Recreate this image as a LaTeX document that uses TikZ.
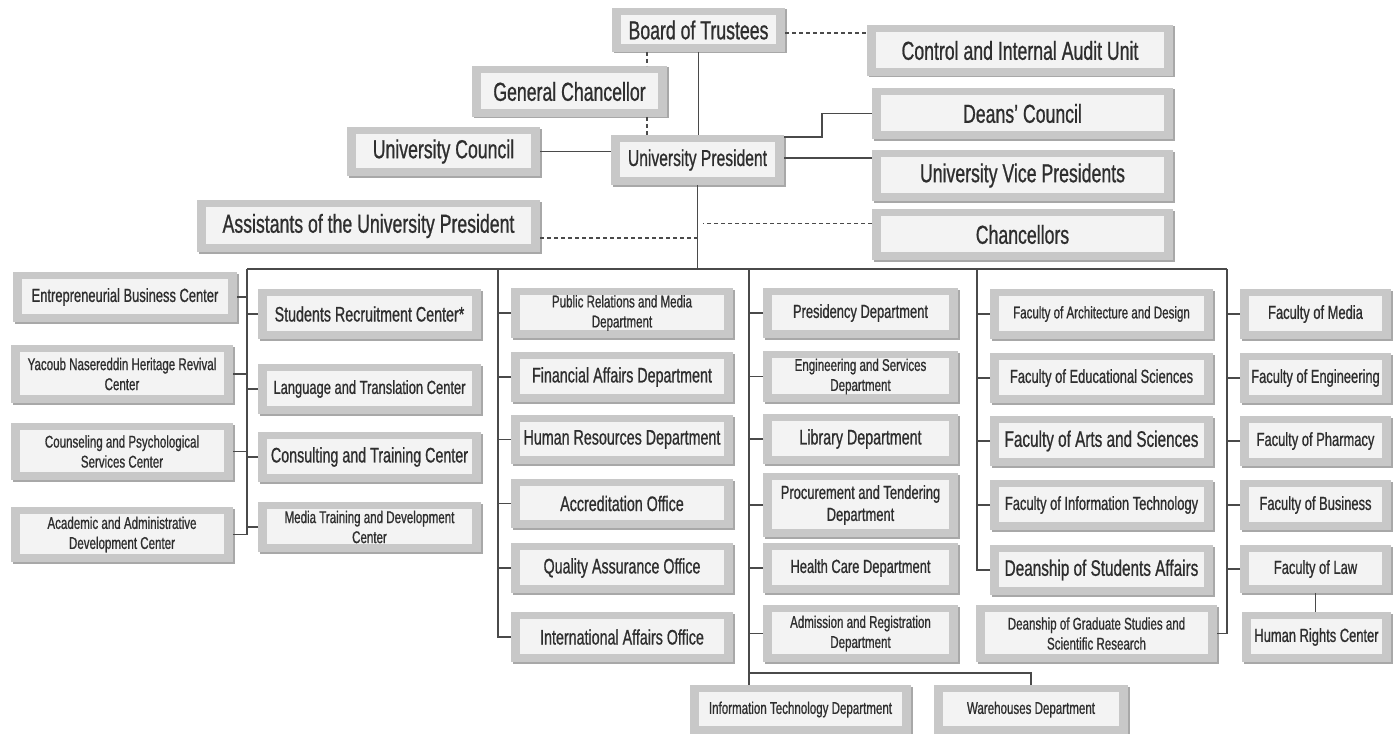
\documentclass[tikz,border=0pt]{standalone}
\usepackage{fontspec}
\setmainfont[FakeStretch=0.68,FakeBold=0.8]{Liberation Sans}
\usetikzlibrary{shadows,calc}
\definecolor{frame}{HTML}{C8C8C8}
\definecolor{innerfill}{HTML}{F3F3F3}
\definecolor{edge}{HTML}{A8A8A8}
\definecolor{linecol}{HTML}{4A4A4A}
\definecolor{txt}{HTML}{2E2E2E}
\tikzset{
  box/.style={rectangle, fill=frame, inner sep=0pt, outer sep=0pt, text=txt, align=center,
    general shadow={fill=edge, shadow xshift=1.5pt, shadow yshift=-1.5pt},
    path picture={\fill[innerfill] ([xshift=9pt,yshift=-7pt]path picture bounding box.north west)
       rectangle ([xshift=-9pt,yshift=8pt]path picture bounding box.south east);}},
  sz/.style 2 args={minimum width=#1pt, minimum height=#2pt},
  fA/.style={font=\fontsize{26}{29}\selectfont},
  fP/.style={font=\fontsize{23}{26}\selectfont},
  fBB/.style={font=\fontsize{22.5}{25}\selectfont},
  fB/.style={font=\fontsize{21}{24}\selectfont},
  fC/.style={font=\fontsize{19}{22}\selectfont},
  fD/.style={font=\fontsize{17}{20}\selectfont},
  conn/.style={draw=linecol, line width=1.5pt},
  dsh/.style={conn, dash pattern=on 4pt off 3pt},
}
\begin{document}
\begin{tikzpicture}[x=1pt,y=-1pt]
\fill[white] (0,0) rectangle (1396,733);
\useasboundingbox (0,0) rectangle (1396,733);
% top level
\node[box,sz={173}{44},fA] (bot) at (698.5,30) {Board of Trustees};
\node[box,sz={195}{51},fA] (gc) at (569.5,91.5) {General Chancellor};
\node[box,sz={193}{49},fA] (uc) at (443.5,151.5) {University Council};
\node[box,sz={173}{50},fP] (up) at (697.5,160) {University President};
\node[box,sz={343}{52},fA] (asst) at (368.5,226) {Assistants of the University President};
\node[box,sz={306}{51},fA] (ciau) at (1020,50.5) {Control and Internal Audit Unit};
\node[box,sz={301}{51},fA] (dc) at (1022.5,113.5) {Deans' Council};
\node[box,sz={301}{51},fA] (uvp) at (1022.5,175.5) {University Vice Presidents};
\node[box,sz={301}{51},fA] (ch) at (1022.5,234.5) {Chancellors};
% column A
\node[box,sz={224}{50},fC] (a1) at (125,297) {Entrepreneurial Business Center};
\node[box,sz={222}{58},fD] (a2) at (122,374) {Yacoub Nasereddin Heritage Revival\\Center};
\node[box,sz={222}{57},fD] (a3) at (122,451.5) {Counseling and Psychological\\Services Center};
\node[box,sz={222}{55},fD] (a4) at (122,534.5) {Academic and Administrative\\Development Center};
% column B
\node[box,sz={223}{50},fB] (b1) at (369.5,314) {Students Recruitment Center*};
\node[box,sz={223}{50},fC] (b2) at (369.5,389) {Language and Translation Center};
\node[box,sz={223}{50},fB] (b3) at (369.5,457) {Consulting and Training Center};
\node[box,sz={223}{50},fD] (b4) at (369.5,527) {Media Training and Development\\Center};
% column C
\node[box,sz={222}{50},fD] (c1) at (622,313) {Public Relations and Media\\Department};
\node[box,sz={222}{50},fB] (c2) at (622,377) {Financial Affairs Department};
\node[box,sz={222}{49},fB] (c3) at (622,439.5) {Human Resources Department};
\node[box,sz={222}{49},fB] (c4) at (622,503.5) {Accreditation Office};
\node[box,sz={222}{50},fB] (c5) at (622,568) {Quality Assurance Office};
\node[box,sz={222}{50},fB] (c6) at (622,637) {International Affairs Office};
% column D
\node[box,sz={195}{50},fC] (d1) at (860.5,313) {Presidency Department};
\node[box,sz={195}{51},fD] (d2) at (860.5,376.5) {Engineering and Services\\Department};
\node[box,sz={195}{50},fB] (d3) at (860.5,439) {Library Department};
\node[box,sz={195}{64},fC] (d4) at (860.5,505) {Procurement and Tendering\\Department};
\node[box,sz={195}{50},fC] (d5) at (860.5,568) {Health Care Department};
\node[box,sz={195}{57},fD] (d6) at (860.5,633.5) {Admission and Registration\\Department};
% column E
\node[box,sz={223}{50},fD] (e1) at (1101.5,314) {Faculty of Architecture and Design};
\node[box,sz={223}{50},fC] (e2) at (1101.5,378) {Faculty of Educational Sciences};
\node[box,sz={223}{50},fBB] (e3) at (1101.5,441) {Faculty of Arts and Sciences};
\node[box,sz={223}{50},fC] (e4) at (1101.5,505) {Faculty of Information Technology};
\node[box,sz={223}{50},fBB] (e5) at (1101.5,570) {Deanship of Students Affairs};
\node[box,sz={241}{57},fD] (e6) at (1096.5,633.5) {Deanship of Graduate Studies and\\Scientific Research};
% column F
\node[box,sz={151}{50},fC] (f1) at (1315.5,314) {Faculty of Media};
\node[box,sz={151}{50},fC] (f2) at (1315.5,378) {Faculty of Engineering};
\node[box,sz={151}{50},fC] (f3) at (1315.5,441) {Faculty of Pharmacy};
\node[box,sz={151}{50},fC] (f4) at (1315.5,505) {Faculty of Business};
\node[box,sz={151}{48},fC] (f5) at (1315.5,569) {Faculty of Law};
\node[box,sz={149}{50},fC] (f6) at (1316.5,637) {Human Rights Center};
% bottom
\node[box,sz={221}{49},fD] (g1) at (800.5,709.5) {Information Technology Department};
\node[box,sz={194}{49},fD] (g2) at (1031,709.5) {Warehouses Department};
% helper coordinates
\coordinate (gx) at (647,0);
\coordinate (vA) at (247,269);
\coordinate (vC) at (498,269);
\coordinate (vD) at (749,269);
\coordinate (vE) at (977,269);
\coordinate (vF) at (1227,269);
\coordinate (bb) at (749,673);
% top connectors
\draw[conn] (bot.south) -- (bot.south |- up.north);
\draw[dsh] (gx |- bot.south) -- (gx |- gc.north);
\draw[dsh] (gx |- gc.south) -- (gx |- up.north);
\draw[dsh] ($(bot.east)+(0,3)$) -- ($(bot.east -| ciau.west)+(0,3)$);
\draw[conn] (uc.east) -- (uc.east -| up.west);
\draw[conn] ($(up.north east)+(0,2)$) -- ++(38,0) |- (dc.west);
\draw[conn] ($(up.east)+(0,-2)$) -- ($(up.east -| uvp.west)+(0,-2)$);
\draw[conn] (up.south) -- (up.south |- vA);
\draw[dsh] ($(asst.east)+(0,12)$) -- ($(asst.east -| up.south)+(0,12)$);
\draw[dsh] ($(ch.west)+(0,-11)$) -- ($(ch.west -| up.south)+(5,-11)$);
% bus
\draw[conn] (vA) -- (vF);
\draw[conn] (vA) |- (a4.east);
\foreach \n in {a1,a2,a3} \draw[conn] (\n.east) -- (\n.east -| vA);
\foreach \n in {b1,b2,b3,b4} \draw[conn] (\n.west) -- (\n.west -| vA);
\draw[conn] (vC) |- (c6.west);
\foreach \n in {c1,c2,c3,c4,c5} \draw[conn] (\n.west) -- (\n.west -| vC);
\draw[conn] (vD) -- (vD |- g1.north);
\draw[conn] (bb) -| (g2.north);
\foreach \n in {d1,d2,d3,d4,d5,d6} \draw[conn] (\n.west) -- (\n.west -| vD);
\draw[conn] (vE) |- (e5.west);
\foreach \n in {e1,e2,e3,e4} \draw[conn] (\n.west) -- (\n.west -| vE);
\draw[conn] (vF) |- (e6.east);
\foreach \n in {f1,f2,f3,f4,f5} \draw[conn] (\n.west) -- (\n.west -| vF);
\draw[conn] (f5.south) -- (f5.south |- f6.north);
\end{tikzpicture}
\end{document}
